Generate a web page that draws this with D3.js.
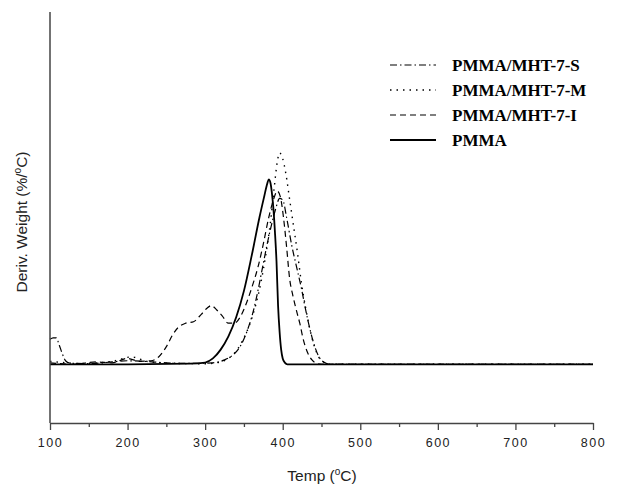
<!DOCTYPE html>
<html>
<head>
<meta charset="utf-8">
<script src="https://cdn.jsdelivr.net/npm/d3@7"></script>
<style>
  body { margin: 0; background: #fff; }
  svg { display: block; }
</style>
</head>
<body>
<div id="chart"></div>
<script>
// DTG curves, [temp in C, deriv. weight]
var pmma = [[100,0],[200,0],[280,0.002],[300,0.006],[310,0.02],[320,0.05],[330,0.095],[340,0.16],[350,0.25],[360,0.37],[370,0.5],[376,0.57],[380,0.615],[382,0.63],[384,0.62],[386,0.585],[388,0.53],[390,0.45],[392,0.35],[394,0.2],[396,0.11],[398,0.05],[400,0.02],[403,0.005],[406,0],[500,0],[800,0]];
var mhtI = [[100,0.005],[130,0],[160,0.008],[180,0.005],[200,0.02],[215,0.01],[230,0.012],[240,0.025],[250,0.06],[258,0.1],[265,0.125],[275,0.14],[285,0.145],[295,0.17],[302,0.19],[308,0.2],[315,0.185],[322,0.165],[330,0.14],[338,0.14],[345,0.16],[352,0.2],[360,0.26],[368,0.33],[375,0.41],[382,0.5],[388,0.56],[393,0.59],[397,0.57],[401,0.5],[405,0.4],[409,0.29],[413,0.235],[418,0.18],[422,0.14],[426,0.09],[432,0.04],[438,0.014],[444,0.003],[450,0],[800,0]];
var mhtS = [[100,0.085],[104,0.09],[108,0.09],[112,0.065],[116,0.035],[120,0.012],[126,0.004],[150,0.002],[180,0.008],[200,0.012],[220,0.01],[250,0.005],[280,0.003],[310,0.005],[325,0.015],[335,0.03],[345,0.06],[355,0.12],[362,0.18],[368,0.25],[374,0.33],[380,0.41],[386,0.48],[391,0.53],[396,0.565],[400,0.56],[405,0.5],[412,0.4],[418,0.33],[424,0.26],[430,0.18],[436,0.11],[442,0.055],[448,0.02],[454,0.006],[460,0],[800,0]];
var mhtM = [[100,0.01],[140,0.003],[180,0.01],[205,0.025],[225,0.01],[260,0.003],[300,0.002],[320,0.008],[330,0.02],[340,0.045],[350,0.09],[358,0.14],[365,0.2],[372,0.28],[378,0.37],[384,0.48],[389,0.6],[393,0.69],[396,0.72],[400,0.7],[404,0.65],[409,0.56],[414,0.47],[419,0.38],[424,0.28],[429,0.2],[435,0.12],[441,0.06],[447,0.022],[453,0.007],[460,0],[800,0]];

var xTicks = [100, 200, 300, 400, 500, 600, 700, 800];
var xMinor = [150, 250, 350, 450, 550, 650, 750];
var names = ["PMMA/MHT-7-S", "PMMA/MHT-7-M", "PMMA/MHT-7-I", "PMMA"];

var series = [mhtS, mhtM, mhtI, pmma];
var dashes = ["7,3,1.5,3", "1.5,5", "6,4", null];
var widths = [1.2, 1.4, 1.2, 1.8];

var w = 618, h = 488;
var svg = d3.select("#chart").append("svg")
  .attr("width", w)
  .attr("height", h);

var x = d3.scaleLinear().domain([100, 800]).range([50, 593]);
var y = d3.scaleLinear().domain([-0.2, 1.2]).range([423, 12]);

// curves
var line = d3.line()
  .x(function(d) { return x(d[0]); })
  .y(function(d) { return y(d[1]); })
  .curve(d3.curveMonotoneX);

svg.selectAll("path.curve")
  .data(series)
  .enter()
  .append("path")
  .attr("class", "curve")
  .attr("d", line)
  .attr("fill", "none")
  .attr("stroke", "#000")
  .attr("stroke-width", function(d, i) { return widths[i]; })
  .attr("stroke-dasharray", function(d, i) { return dashes[i]; });

// axes
var xAxis = svg.append("g")
  .attr("transform", "translate(0,423)")
  .call(d3.axisBottom(x).tickValues(xTicks).tickSize(7).tickSizeOuter(0).tickPadding(8));
xAxis.select(".domain").attr("stroke", "#444").attr("stroke-width", 1.5);
xAxis.selectAll(".tick line").attr("stroke", "#444").attr("stroke-width", 1.3);
xAxis.selectAll(".tick text")
  .attr("fill", "#222")
  .style("font-family", "'Liberation Sans', Arial, sans-serif")
  .style("font-size", "12.5px")
  .style("letter-spacing", "1.5px");

var minor = svg.append("g")
  .attr("transform", "translate(0,423)")
  .call(d3.axisBottom(x).tickValues(xMinor).tickSize(4).tickFormat(""));
minor.select(".domain").remove();
minor.selectAll(".tick line").attr("stroke", "#444").attr("stroke-width", 1.3);

svg.append("line")
  .attr("x1", x(100)).attr("x2", x(100))
  .attr("y1", y(1.2)).attr("y2", y(-0.2))
  .attr("stroke", "#444")
  .attr("stroke-width", 1.5);

// axis titles
var xt = svg.append("text")
  .attr("x", 322).attr("y", 481)
  .attr("text-anchor", "middle")
  .style("font-family", "'Liberation Sans', Arial, sans-serif")
  .style("font-size", "15.5px")
  .attr("fill", "#222");
xt.append("tspan").text("Temp (");
xt.append("tspan").attr("dy", -6).style("font-size", "10px").text("o");
xt.append("tspan").attr("dy", 6).text("C)");

var yt = svg.append("text")
  .attr("transform", "translate(27,222) rotate(-90)")
  .attr("text-anchor", "middle")
  .style("font-family", "'Liberation Sans', Arial, sans-serif")
  .style("font-size", "15.5px")
  .attr("fill", "#222");
yt.append("tspan").text("Deriv. Weight (%/");
yt.append("tspan").attr("dy", -6).style("font-size", "10px").text("o");
yt.append("tspan").attr("dy", 6).text("C)");

// legend
var leg = svg.selectAll("g.leg")
  .data(names)
  .enter()
  .append("g")
  .attr("class", "leg")
  .attr("transform", function(d, i) { return "translate(390," + (65 + i * 25) + ")"; });

leg.append("line")
  .attr("x1", 0).attr("x2", 46)
  .attr("stroke", "#000")
  .attr("stroke-width", function(d, i) { return widths[i]; })
  .attr("stroke-dasharray", function(d, i) { return dashes[i]; });

leg.append("text")
  .attr("x", 62).attr("dy", "0.35em")
  .style("font-family", "'Liberation Serif', 'Times New Roman', serif")
  .style("font-size", "17px")
  .style("font-weight", "bold")
  .text(function(d) { return d; });
</script>
</body>
</html>
